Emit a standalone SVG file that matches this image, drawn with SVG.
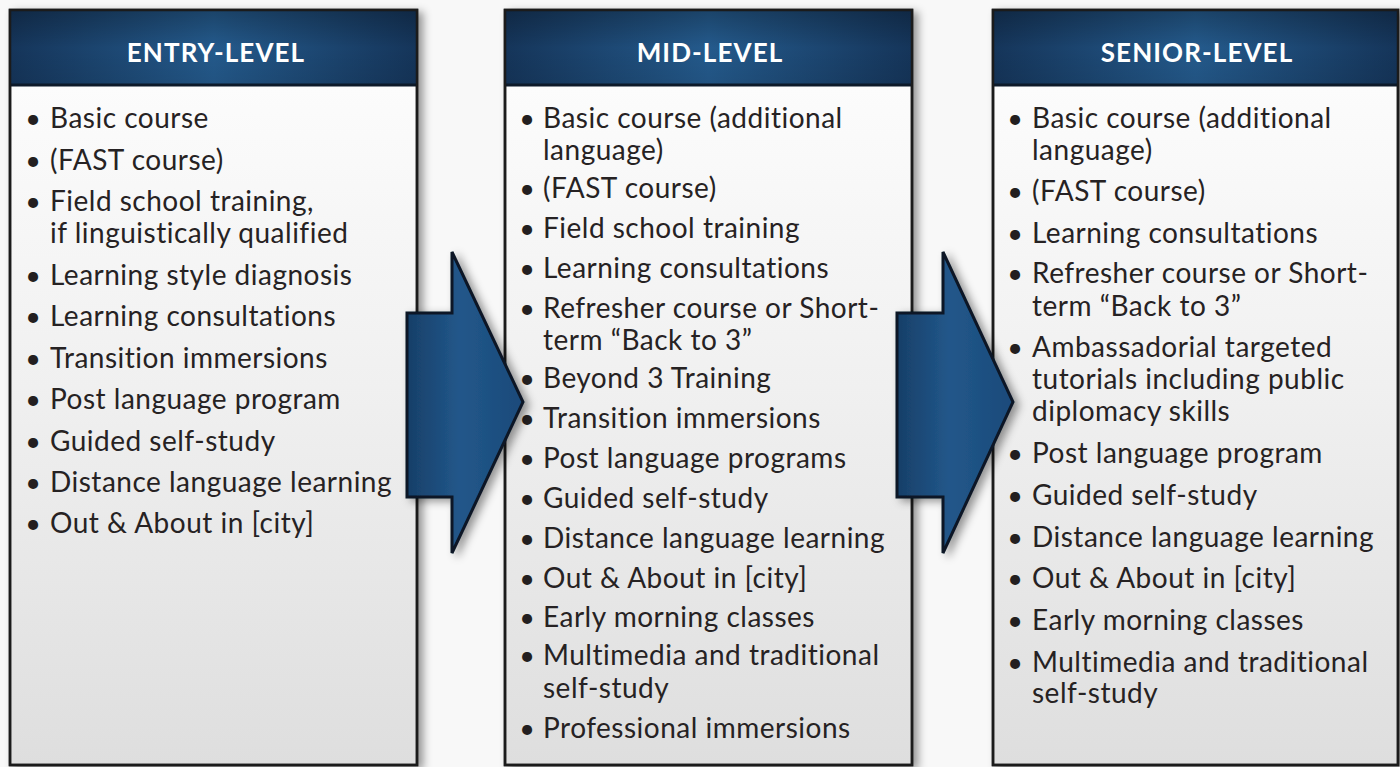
<svg xmlns="http://www.w3.org/2000/svg" width="1400" height="767" viewBox="0 0 1400 767">
  <defs>
    <style>
      .body { font-family: Lato, "Open Sans", "Liberation Sans", sans-serif; font-size: 28px; letter-spacing: 0.5px; fill: #262223; }
      .bul { font-family: Lato, "Liberation Sans", sans-serif; font-size: 27px; fill: #231f20; text-anchor: middle; }
      .head { font-family: Lato, "Open Sans", "Liberation Sans", sans-serif; font-size: 26px; font-weight: bold; letter-spacing: 1.1px; fill: #ffffff; text-anchor: middle; }
      .frame { stroke: #1b1b1b; stroke-width: 2.5; }
      .arrow { fill: url(#arrowGrad); stroke: #0b1726; stroke-width: 3; stroke-linejoin: miter; filter: url(#shadow); }
    </style>
    <linearGradient id="bodyGrad" x1="0" y1="0" x2="0" y2="1">
      <stop offset="0" stop-color="#ffffff"/>
      <stop offset="0.5" stop-color="#f0f0f0"/>
      <stop offset="1" stop-color="#dedede"/>
    </linearGradient>
    <linearGradient id="headGrad" x1="0" y1="0" x2="1" y2="0">
      <stop offset="0" stop-color="#15355a"/>
      <stop offset="0.5" stop-color="#245a8c"/>
      <stop offset="1" stop-color="#15355a"/>
    </linearGradient>
    <linearGradient id="headShade" x1="0" y1="0" x2="0" y2="1">
      <stop offset="0" stop-color="#000000" stop-opacity="0.25"/>
      <stop offset="0.5" stop-color="#000000" stop-opacity="0"/>
      <stop offset="1" stop-color="#000000" stop-opacity="0.08"/>
    </linearGradient>
    <linearGradient id="arrowGrad" x1="0" y1="0" x2="1" y2="0">
      <stop offset="0" stop-color="#173f68"/>
      <stop offset="0.45" stop-color="#22578a"/>
      <stop offset="1" stop-color="#1a4a7a"/>
    </linearGradient>
    <filter id="shadow" x="-10%" y="-10%" width="130%" height="130%">
      <feDropShadow dx="5" dy="3" stdDeviation="4" flood-color="#000000" flood-opacity="0.4"/>
    </filter>
  </defs>

  <rect x="0" y="0" width="1400" height="767" fill="#f8f8f8"/>

  <g id="entry-level">
    <rect x="10" y="10" width="407" height="755" fill="url(#bodyGrad)" class="frame" filter="url(#shadow)"/>
    <rect x="10" y="10" width="407" height="75" fill="url(#headGrad)"/>
    <rect x="10" y="10" width="407" height="75" fill="url(#headShade)"/>
    <line x1="10" y1="85" x2="417" y2="85" stroke="#0d1a2a" stroke-width="3"/>
    <rect x="10" y="10" width="407" height="755" fill="none" class="frame"/>
    <text class="head" x="216" y="62">ENTRY-LEVEL</text>
    <g class="bul">
      <text x="33" y="128">•</text><text x="33" y="169.5">•</text><text x="33" y="211">•</text>
      <text x="33" y="284.5">•</text><text x="33" y="326">•</text><text x="33" y="367.5">•</text>
      <text x="33" y="409">•</text><text x="33" y="450.5">•</text><text x="33" y="492">•</text>
      <text x="33" y="533">•</text>
    </g>
    <g class="body">
      <text x="50" y="128">Basic course</text>
      <text x="50" y="169.5">(FAST course)</text>
      <text x="50" y="211">Field school training,</text>
      <text x="50" y="243">if linguistically qualified</text>
      <text x="50" y="284.5">Learning style diagnosis</text>
      <text x="50" y="326">Learning consultations</text>
      <text x="50" y="367.5">Transition immersions</text>
      <text x="50" y="409">Post language program</text>
      <text x="50" y="450.5">Guided self-study</text>
      <text x="50" y="492">Distance language learning</text>
      <text x="50" y="533">Out &amp; About in [city]</text>
    </g>
  </g>

  <g id="mid-level">
    <rect x="505" y="10" width="407" height="755" fill="url(#bodyGrad)" class="frame" filter="url(#shadow)"/>
    <rect x="505" y="10" width="407" height="75" fill="url(#headGrad)"/>
    <rect x="505" y="10" width="407" height="75" fill="url(#headShade)"/>
    <line x1="505" y1="85" x2="912" y2="85" stroke="#0d1a2a" stroke-width="3"/>
    <rect x="505" y="10" width="407" height="755" fill="none" class="frame"/>
    <text class="head" x="710" y="62">MID-LEVEL</text>
    <g class="bul">
      <text x="527" y="128">•</text><text x="527" y="198">•</text><text x="527" y="238">•</text>
      <text x="527" y="278">•</text><text x="527" y="318">•</text><text x="527" y="388">•</text>
      <text x="527" y="428">•</text><text x="527" y="468">•</text><text x="527" y="508">•</text>
      <text x="527" y="548">•</text><text x="527" y="588">•</text><text x="527" y="627">•</text>
      <text x="527" y="665">•</text><text x="527" y="738">•</text>
    </g>
    <g class="body">
      <text x="543" y="128">Basic course (additional</text>
      <text x="543" y="160">language)</text>
      <text x="543" y="198">(FAST course)</text>
      <text x="543" y="238">Field school training</text>
      <text x="543" y="278">Learning consultations</text>
      <text x="543" y="318">Refresher course or Short-</text>
      <text x="543" y="350">term “Back to 3”</text>
      <text x="543" y="388">Beyond 3 Training</text>
      <text x="543" y="428">Transition immersions</text>
      <text x="543" y="468">Post language programs</text>
      <text x="543" y="508">Guided self-study</text>
      <text x="543" y="548">Distance language learning</text>
      <text x="543" y="588">Out &amp; About in [city]</text>
      <text x="543" y="627">Early morning classes</text>
      <text x="543" y="665">Multimedia and traditional</text>
      <text x="543" y="698">self-study</text>
      <text x="543" y="738">Professional immersions</text>
    </g>
  </g>

  <g id="senior-level">
    <rect x="993" y="10" width="405" height="755" fill="url(#bodyGrad)" class="frame" filter="url(#shadow)"/>
    <rect x="993" y="10" width="405" height="75" fill="url(#headGrad)"/>
    <rect x="993" y="10" width="405" height="75" fill="url(#headShade)"/>
    <line x1="993" y1="85" x2="1398" y2="85" stroke="#0d1a2a" stroke-width="3"/>
    <rect x="993" y="10" width="405" height="755" fill="none" class="frame"/>
    <text class="head" x="1197" y="62">SENIOR-LEVEL</text>
    <g class="bul">
      <text x="1015" y="128">•</text><text x="1015" y="201">•</text><text x="1015" y="243">•</text>
      <text x="1015" y="283">•</text><text x="1015" y="357">•</text><text x="1015" y="463">•</text>
      <text x="1015" y="505">•</text><text x="1015" y="547">•</text><text x="1015" y="588">•</text>
      <text x="1015" y="630">•</text><text x="1015" y="672">•</text>
    </g>
    <g class="body">
      <text x="1032" y="128">Basic course (additional</text>
      <text x="1032" y="160">language)</text>
      <text x="1032" y="201">(FAST course)</text>
      <text x="1032" y="243">Learning consultations</text>
      <text x="1032" y="283">Refresher course or Short-</text>
      <text x="1032" y="316">term “Back to 3”</text>
      <text x="1032" y="357">Ambassadorial targeted</text>
      <text x="1032" y="389">tutorials including public</text>
      <text x="1032" y="421">diplomacy skills</text>
      <text x="1032" y="463">Post language program</text>
      <text x="1032" y="505">Guided self-study</text>
      <text x="1032" y="547">Distance language learning</text>
      <text x="1032" y="588">Out &amp; About in [city]</text>
      <text x="1032" y="630">Early morning classes</text>
      <text x="1032" y="672">Multimedia and traditional</text>
      <text x="1032" y="703">self-study</text>
    </g>
  </g>

  <g id="connectors">
    <polygon class="arrow" points="407,313 452,313 452,252 523,402 452,553 452,497 407,497"/>
    <polygon class="arrow" points="897,313 943,313 943,252 1013,402 943,553 943,497 897,497"/>
  </g>
</svg>
